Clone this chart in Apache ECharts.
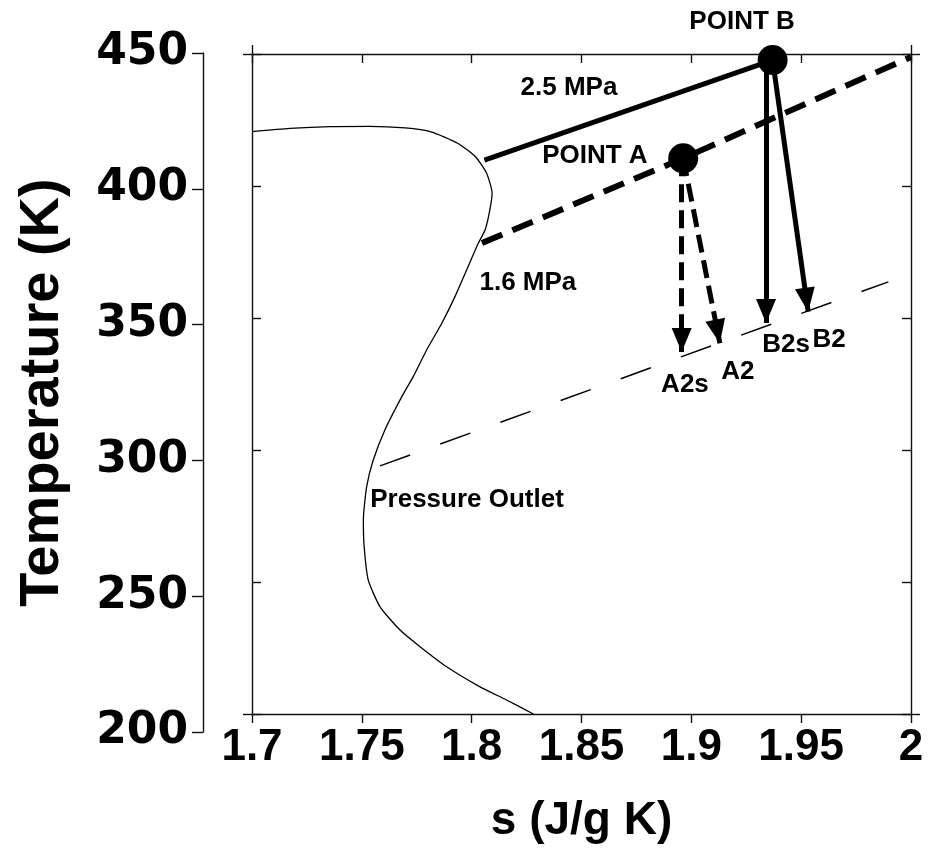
<!DOCTYPE html>
<html>
<head>
<meta charset="utf-8">
<script src="https://cdn.jsdelivr.net/npm/echarts@6/dist/echarts.min.js"></script>
<style>
html,body{margin:0;padding:0;background:#fff;}
#chart{width:930px;height:855px;}
</style>
</head>
<body>
<div id="chart"></div>
<script>
// ---- data ----
const sTickLabels = ['1.7', '1.75', '1.8', '1.85', '1.9', '1.95', '2'];
const tTickLabels = ['200', '250', '300', '350', '400', '450'];

// phase boundary / pressure outlet curve
const curveS = [1.7000, 1.7173, 1.7355, 1.7537, 1.7697, 1.7815, 1.7936, 1.8017, 1.8068, 1.8093, 1.8081, 1.8061, 1.8030, 1.7977, 1.7924, 1.7864, 1.7795, 1.7734, 1.7682, 1.7605, 1.7552, 1.7522, 1.7507, 1.7510, 1.7529, 1.7583, 1.7674, 1.7765, 1.7886, 1.8038, 1.8159, 1.8281];
const curveT = [420.6, 421.8, 422.5, 422.6, 422.0, 420.5, 416.2, 411.1, 404.8, 397.3, 390.2, 383.3, 378.3, 368.2, 358.1, 348.0, 337.9, 327.8, 320.2, 307.6, 296.2, 286.1, 273.5, 264.0, 250.8, 240.6, 231.8, 225.5, 217.9, 210.3, 205.3, 200.0];

// isobars
const outletS = [1.7583, 1.9897];
const outletT = [294.0, 363.7];
const p25S = [1.8058, 1.9370];
const p25T = [409.8, 447.7];
const p16S = [1.8047, 1.8963, 2.0000];
const p16T = [378.4, 410.5, 448.9];

// state points
const pointS = [1.8963, 1.9370];
const pointT = [410.5, 447.7];

// expansions (start -> end)
const arrowAStartS = [1.8956, 1.8963];
const arrowAStartT = [410.5, 410.5];
const arrowAEndS = [1.8956, 1.9130];
const arrowAEndT = [337.1, 340.4];
const arrowBStartS = [1.9340, 1.9370];
const arrowBStartT = [447.7, 447.7];
const arrowBEndS = [1.9340, 1.9532];
const arrowBEndT = [348.1, 352.4];

// text annotations
const labelNames = ['POINT B', '2.5 MPa', 'POINT A', '1.6 MPa', 'A2s', 'A2', 'B2s', 'B2', 'Pressure Outlet'];
const labelS = [1.9231, 1.8443, 1.8561, 1.8256, 1.8971, 1.9212, 1.9431, 1.9627, 1.7979];
const labelT = [462.1, 437.1, 411.4, 363.3, 324.6, 329.5, 339.8, 341.7, 281.1];

// ---- build ----
const zip = (a, b) => a.map((v, i) => [v, b[i]]);
const BLACK = '#000';
const axisLine = { show: true, lineStyle: { color: '#111', width: 1.4 } };

const arrowMarkLine = (startS, startT, endS, endT, dashed) => ({
  silent: true,
  symbol: ['none', 'triangle'],
  symbolSize: 22,
  label: { show: false },
  emphasis: { disabled: true },
  animation: false,
  lineStyle: { color: BLACK, width: 5, type: dashed ? [18, 8] : 'solid', opacity: 1 },
  itemStyle: { color: BLACK, opacity: 1 },
  data: startS.map((s, i) => [
    { coord: [s, startT[i]], symbol: 'none' },
    { coord: [endS[i], endT[i]], symbol: 'triangle', symbolSize: [20, 24], symbolOffset: [0, 12] }
  ])
});

const chart = echarts.init(document.getElementById('chart'), null, { renderer: 'canvas' });

const option = {
  backgroundColor: '#fff',
  animation: false,
  grid: [
    { left: 252, top: 54, width: 659, height: 660 },
    { left: 203, top: 53, width: 10, height: 679 }
  ],
  xAxis: [
    { // bottom frame with labels
      type: 'value', gridIndex: 0, position: 'bottom', min: 1.7, max: 2.0, interval: 0.05,
      axisLine: axisLine,
      axisTick: { show: true, inside: false, length: 9, lineStyle: { color: '#111', width: 1.4 } },
      axisLabel: {
        show: true, margin: 12, color: BLACK, fontFamily: 'Liberation Sans', fontWeight: 'bold', fontSize: 44,
        formatter: (v) => sTickLabels[Math.round((v - 1.7) / 0.05)]
      },
      splitLine: { show: false },
      name: 's (J/g K)', nameLocation: 'middle', nameGap: 84,
      nameTextStyle: { color: BLACK, fontFamily: 'Liberation Sans', fontWeight: 'bold', fontSize: 46 }
    },
    { // top frame, inside ticks
      type: 'value', gridIndex: 0, position: 'top', min: 1.7, max: 2.0, interval: 0.05,
      axisLine: axisLine,
      axisTick: { show: true, inside: true, length: 9, lineStyle: { color: '#111', width: 1.4 } },
      axisLabel: { show: false }, splitLine: { show: false }
    },
    { // top frame corner stubs
      type: 'value', gridIndex: 0, position: 'top', min: 1.7, max: 2.0, interval: 0.3,
      axisLine: { show: false },
      axisTick: { show: true, inside: false, length: 9, lineStyle: { color: '#111', width: 1.4 } },
      axisLabel: { show: false }, splitLine: { show: false }
    },
    { // helper for outer axis grid
      type: 'value', gridIndex: 1, min: 0, max: 1, show: false
    }
  ],
  yAxis: [
    { // left frame, inside ticks
      type: 'value', gridIndex: 0, position: 'left', min: 200, max: 450, interval: 50,
      axisLine: axisLine,
      axisTick: { show: true, inside: true, length: 9, lineStyle: { color: '#111', width: 1.4 } },
      axisLabel: { show: false }, splitLine: { show: false }
    },
    { // right frame, inside ticks
      type: 'value', gridIndex: 0, position: 'right', min: 200, max: 450, interval: 50,
      axisLine: axisLine,
      axisTick: { show: true, inside: true, length: 9, lineStyle: { color: '#111', width: 1.4 } },
      axisLabel: { show: false }, splitLine: { show: false }
    },
    { // left corner stubs
      type: 'value', gridIndex: 0, position: 'left', min: 200, max: 450, interval: 250,
      axisLine: { show: false },
      axisTick: { show: true, inside: false, length: 9, lineStyle: { color: '#111', width: 1.4 } },
      axisLabel: { show: false }, splitLine: { show: false }
    },
    { // right corner stubs
      type: 'value', gridIndex: 0, position: 'right', min: 200, max: 450, interval: 250,
      axisLine: { show: false },
      axisTick: { show: true, inside: false, length: 9, lineStyle: { color: '#111', width: 1.4 } },
      axisLabel: { show: false }, splitLine: { show: false }
    },
    { // detached outer temperature axis
      type: 'value', gridIndex: 1, position: 'left', min: 200, max: 450, interval: 50,
      axisLine: axisLine,
      axisTick: { show: true, inside: false, length: 11, lineStyle: { color: '#111', width: 1.4 } },
      axisLabel: {
        show: true, margin: 15, color: BLACK, fontFamily: 'DejaVu Sans', fontWeight: 'bold', fontSize: 44,
        formatter: (v) => tTickLabels[Math.round((v - 200) / 50)]
      },
      splitLine: { show: false },
      name: 'Temperature (K)', nameLocation: 'middle', nameGap: 132, nameRotate: 90,
      nameTextStyle: { color: BLACK, fontFamily: 'Liberation Sans', fontWeight: 'bold', fontSize: 56 }
    }
  ],
  series: [
    {
      name: 'curve', type: 'line', xAxisIndex: 0, yAxisIndex: 0,
      data: zip(curveS, curveT), showSymbol: false, smooth: 0.2,
      lineStyle: { color: BLACK, width: 1.3 }
    },
    {
      name: 'outlet', type: 'line', xAxisIndex: 0, yAxisIndex: 0,
      data: zip(outletS, outletT), showSymbol: false,
      lineStyle: { color: BLACK, width: 1.5, type: [32, 32] }
    },
    {
      name: '2.5 MPa', type: 'line', xAxisIndex: 0, yAxisIndex: 0,
      data: zip(p25S, p25T), showSymbol: false,
      lineStyle: { color: BLACK, width: 5 }
    },
    {
      name: '1.6 MPa', type: 'line', xAxisIndex: 0, yAxisIndex: 0,
      data: zip(p16S, p16T), showSymbol: false,
      lineStyle: { color: BLACK, width: 6, type: [22, 11] }
    },
    {
      name: 'arrowsA', type: 'line', xAxisIndex: 0, yAxisIndex: 0, data: [],
      markLine: arrowMarkLine(arrowAStartS, arrowAStartT, arrowAEndS, arrowAEndT, true)
    },
    {
      name: 'arrowsB', type: 'line', xAxisIndex: 0, yAxisIndex: 0, data: [],
      markLine: arrowMarkLine(arrowBStartS, arrowBStartT, arrowBEndS, arrowBEndT, false)
    },
    {
      name: 'points', type: 'scatter', xAxisIndex: 0, yAxisIndex: 0, clip: false,
      data: zip(pointS, pointT), symbol: 'circle', symbolSize: 30,
      itemStyle: { color: BLACK, opacity: 1 }, z: 5
    },
    {
      name: 'labels', type: 'scatter', xAxisIndex: 0, yAxisIndex: 0, clip: false,
      data: labelNames.map((n, i) => ({ name: n, value: [labelS[i], labelT[i]] })),
      symbolSize: 1, itemStyle: { color: 'rgba(0,0,0,0)', opacity: 1 },
      label: {
        show: true, position: 'inside', formatter: (p) => p.name,
        color: BLACK, fontFamily: 'Liberation Sans', fontWeight: 'bold', fontSize: 26
      },
      z: 6
    }
  ]
};
chart.setOption(option);
</script>
</body>
</html>
